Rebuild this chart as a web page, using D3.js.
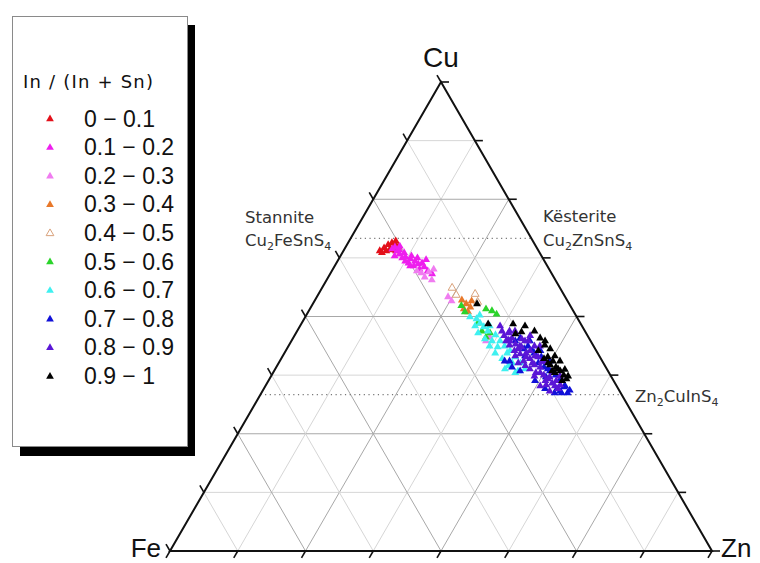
<!DOCTYPE html>
<html>
<head>
<meta charset="utf-8">
<script src="https://cdn.jsdelivr.net/npm/d3@7"></script>
<style>
body { margin: 0; background: #fff; }
svg { display: block; font-family: "Liberation Sans", Arial, sans-serif; }
</style>
</head>
<body>
<svg id="chart" width="760" height="563"></svg>
<script>
// legend bins for In / (In + Sn)
var binLabels = ["0 \u2212 0.1", "0.1 \u2212 0.2", "0.2 \u2212 0.3", "0.3 \u2212 0.4", "0.4 \u2212 0.5",
                 "0.5 \u2212 0.6", "0.6 \u2212 0.7", "0.7 \u2212 0.8", "0.8 \u2212 0.9", "0.9 \u2212 1"];
var binColors = ["#e3101a", "#ee1eee", "#f07cf0", "#e8782a", "#d9a27c",
                 "#2ad42a", "#3ef0f0", "#1010d8", "#5a16d6", "#000000"];

// compositions, [Cu %, Zn %] (Fe = 100 - Cu - Zn)
var bin0 = [[64.2,6.6],[64.8,7.1],[65.5,7.5],[65.9,8.0],[65.7,8.7],[65.0,9.6],[64.6,8.3],
            [64.2,7.8],[64.4,8.9],[64.2,9.6],[63.8,7.2],[66.3,8.5]];
var bin1 = [[64.6,8.7],[64.2,9.8],[63.5,10.6],[63.8,11.3],[62.9,12.0],[62.5,13.1],[63.1,13.0],
            [62.0,14.2],[61.4,15.1],[61.0,14.5],[60.3,15.9],[60.8,16.5],[59.9,17.6],[59.3,18.7],
            [61.6,13.2],[62.7,11.5],[65.0,9.0],[62.7,14.3],[61.6,15.7],[64.4,10.1],[62.3,16.1],
            [63.1,9.9],[62.0,12.4],[61.0,13.8],[65.2,9.8]];
var bin2 = [[59.5,16.6],[58.6,17.7],[59.7,17.9],[58.0,19.3],[60.3,18.5],[59.9,15.6],
            [54.4,24.1],[53.5,25.2],[45.8,36.1],[45.0,35.8]];
var bin3 = [[53.7,27.0],[52.9,28.2],[52.2,29.3],[51.8,28.3],[53.5,28.9],[51.2,29.4]];
var bin4 = [[56.3,23.9],[55.0,28.8],[53.3,30.1],[54.8,25.4]];
var bin5 = [[52.5,27.5],[51.2,28.8],[51.8,32.4],[51.4,33.7],[50.7,34.9],[47.1,34.0],
            [45.8,35.4],[46.7,35.7],[48.8,32.4]];
var bin6 = [[49.7,31.7],[48.8,32.8],[48.0,33.9],[47.1,35.1],[46.3,36.9],[45.0,38.4],[43.9,39.8],
            [42.9,41.3],[41.6,42.9],[40.3,44.5],[39.0,46.0],[43.7,38.6],[42.4,41.0],[45.0,36.9],
            [50.5,31.9],[50.1,30.3],[40.3,43.0],[38.6,44.9],[48.2,32.2],[46.7,33.5],[45.4,35.4],
            [43.9,37.0],[42.4,38.8],[41.2,40.7],[39.7,42.6],[38.2,44.6],[48.2,34.9],[39.0,42.3]];
var bin7 = [[45.6,41.8],[43.9,44.1],[42.9,45.4],[40.3,47.8],[39.4,49.3],[38.6,50.8],[37.7,52.3],
            [36.9,53.6],[35.2,55.1],[33.9,56.4],[33.9,55.3],[34.8,54.0],[39.0,50.2],[41.6,47.7],
            [42.4,46.0],[43.3,43.7],[45.0,41.2],[37.3,50.7],[34.5,56.5],[40.7,41.4],[39.4,43.4],
            [35.4,55.2],[34.3,54.8],[33.9,54.0],[34.8,51.8],[36.5,49.1],[38.6,45.3],[40.7,42.3],
            [41.8,44.6],[42.9,46.9],[40.7,49.7],[45.0,43.9]];
var bin8 = [[47.1,37.7],[46.7,39.1],[45.6,40.3],[45.0,39.5],[44.3,41.6],[43.7,43.0],[42.9,42.1],
            [42.2,43.5],[42.4,44.5],[41.2,45.8],[40.7,44.9],[39.9,47.3],[39.4,48.6],[38.2,48.4],
            [37.7,50.1],[36.9,51.3],[36.0,52.5],[36.5,53.0],[35.6,54.2],[35.6,51.6],[39.0,46.9],
            [40.3,44.1],[44.1,40.6],[41.6,47.1],[40.5,48.3],[45.0,43.6],[46.1,38.6],[38.2,51.6],
            [45.2,39.8],[43.3,42.6],[41.6,44.9],[40.3,46.7],[38.2,49.2],[37.3,51.4],[34.8,54.2],
            [43.9,45.3],[45.4,42.2],[48.2,36.8],[47.1,39.1],[47.1,40.1],[43.9,42.6],[45.0,43.0],
            [42.9,45.0],[41.8,42.8],[39.7,45.7],[37.5,48.5],[36.5,51.0],[35.4,50.6],[35.4,53.3],
            [34.3,52.9],[37.5,53.2],[40.7,48.8],[41.8,46.4],[45.0,40.2],[46.1,43.4],[43.9,46.3]];
var bin9 = [[52.9,30.2],[48.6,34.4],[48.6,39.0],[46.5,40.5],[45.6,45.5],[44.1,47.1],[43.3,48.5],
            [41.6,48.9],[40.7,50.3],[41.2,48.4],[39.4,51.5],[38.6,52.7],[37.7,53.8],[36.9,54.7],
            [39.9,50.2],[42.9,46.5],[38.2,51.9],[46.9,41.4],[41.8,50.1],[40.7,51.6],[38.9,53.4],
            [37.5,54.7],[39.0,52.1],[38.6,51.2],[36.5,54.1],[40.3,49.6],[47.1,43.7],[48.2,41.4],
            [45.0,46.7]];
var bins = [bin0, bin1, bin2, bin3, bin4, bin5, bin6, bin7, bin8, bin9];

// reference phases (Cu %)
var refLines = [{cu: 200 / 3, name: "Stannite"}, {cu: 100 / 3, name: "Zn2CuInS4"}];

var svg = d3.select("#chart");

// x is horizontal position in % (Zn + Cu/2), y is Cu %
var x = d3.scaleLinear().domain([0, 100]).range([170, 712]);
var y = d3.scaleLinear().domain([0, 100]).range([551, 82]);
function px(cu, zn) { return x(zn + cu / 2); }
function py(cu) { return y(cu); }

var line = d3.line();
var steps = d3.range(1, 8).map(function (k) { return k * 12.5; });

// grid
var grid = svg.append("g").attr("fill", "none");
steps.forEach(function (v, i) {
    var col = (i % 2 == 1) ? "#a8a8a8" : "#d6d6d6";
    var segs = [
        [[px(v, 0), py(v)], [px(v, 100 - v), py(v)]],          // Cu = v
        [[px(0, v), py(0)], [px(100 - v, v), py(100 - v)]],    // Zn = v
        [[px(0, 100 - v), py(0)], [px(100 - v, 0), py(100 - v)]] // Fe = v
    ];
    segs.forEach(function (s) {
        grid.append("path").attr("d", line(s)).attr("stroke", col).attr("stroke-width", 1);
    });
});

// dotted reference lines
refLines.forEach(function (r) {
    svg.append("path")
        .attr("d", line([[px(r.cu, 0), py(r.cu)], [px(r.cu, 100 - r.cu), py(r.cu)]]))
        .attr("stroke", "#777").attr("stroke-width", 1.2)
        .attr("stroke-dasharray", "1.2,3.5").attr("fill", "none");
});

// triangle frame
svg.append("path")
    .attr("d", line([[px(0, 0), py(0)], [px(0, 100), py(0)], [px(100, 0), py(100)]]) + "Z")
    .attr("fill", "none").attr("stroke", "#111").attr("stroke-width", 2);

// ticks
var tl = 8;
var ticks = svg.append("g").attr("stroke", "#111").attr("stroke-width", 1.6);
d3.range(0, 9).forEach(function (k) {
    var v = k * 12.5;
    // right edge: horizontal
    var rx = px(v, 100 - v), ry = py(v);
    ticks.append("path").attr("d", line([[rx, ry], [rx + tl, ry]]));
    // left edge: up-left
    var lx = px(100 - v, 0), ly = py(100 - v);
    ticks.append("path").attr("d", line([[lx, ly], [lx - tl * 0.5, ly - tl * 0.866]]));
    // bottom: down-left
    var bx = px(0, v), by = py(0);
    ticks.append("path").attr("d", line([[bx, by], [bx - tl * 0.5, by + tl * 0.866]]));
});

// data points
var sym = d3.symbol().type(d3.symbolTriangle).size(27);
var pts = svg.append("g");
bins.forEach(function (data, i) {
    pts.selectAll(".b" + i)
        .data(data)
        .enter().append("path")
        .attr("d", sym)
        .attr("transform", function (d) { return "translate(" + px(d[0], d[1]) + "," + (py(d[0]) + 1) + ")"; })
        .attr("fill", i == 4 ? "none" : binColors[i])
        .attr("stroke", i == 4 ? binColors[i] : "none")
        .attr("stroke-width", 1);
});

// vertex labels
svg.append("text").attr("x", px(100, 0)).attr("y", py(100) - 15).attr("text-anchor", "middle")
    .attr("font-size", 28).attr("fill", "#111").text("Cu");
svg.append("text").attr("x", px(0, 0) - 9).attr("y", py(0) + 6).attr("text-anchor", "end")
    .attr("font-size", 26).attr("fill", "#111").text("Fe");
svg.append("text").attr("x", px(0, 100) + 9).attr("y", py(0) + 6).attr("text-anchor", "start")
    .attr("font-size", 26).attr("fill", "#111").text("Zn");

// phase labels with subscripts
function formula(g, xx, yy, parts) {
    var t = g.append("text").attr("x", xx).attr("y", yy)
        .attr("font-family", "DejaVu Sans").attr("font-size", 16.5).attr("fill", "#333");
    var low = false;
    parts.forEach(function (p) {
        if (typeof p == "number") {
            t.append("tspan").attr("font-size", 11).attr("dy", 4).text(p);
            low = true;
        } else {
            t.append("tspan").attr("dy", low ? -4 : 0).text(p);
            low = false;
        }
    });
}
var lab = svg.append("g");
var yS = py(refLines[0].cu), yZ = py(refLines[1].cu);
lab.append("text").attr("x", 245).attr("y", yS - 15).attr("font-family", "DejaVu Sans")
    .attr("font-size", 16.5).attr("fill", "#333").text("Stannite");
formula(lab, 245, yS + 8, ["Cu", 2, "FeSnS", 4]);
lab.append("text").attr("x", 543).attr("y", yS - 16).attr("font-family", "DejaVu Sans")
    .attr("font-size", 16.5).attr("fill", "#333").text("K\u00ebsterite");
formula(lab, 543, yS + 8, ["Cu", 2, "ZnSnS", 4]);
formula(lab, 635, yZ + 7, ["Zn", 2, "CuInS", 4]);

// legend
var leg = svg.append("g");
leg.append("rect").attr("x", 20).attr("y", 25).attr("width", 175).attr("height", 431).attr("fill", "#000");
leg.append("rect").attr("x", 12.5).attr("y", 16.5).attr("width", 175).attr("height", 430)
    .attr("fill", "#fff").attr("stroke", "#8a8a8a").attr("stroke-width", 1);
leg.append("text").attr("x", 23).attr("y", 88).attr("font-family", "DejaVu Sans")
    .attr("font-size", 18).attr("fill", "#111")
    .attr("textLength", 130).attr("lengthAdjust", "spacing").text("In / (In + Sn)");
var lsym = d3.symbol().type(d3.symbolTriangle).size(26);
binLabels.forEach(function (lbl, i) {
    var yy = 118 + i * 28.6;
    leg.append("path").attr("d", lsym)
        .attr("transform", "translate(50," + (yy + 1) + ")")
        .attr("fill", i == 4 ? "none" : binColors[i])
        .attr("stroke", i == 4 ? binColors[i] : "none");
    leg.append("text").attr("x", 84).attr("y", yy + 8.5)
        .attr("font-size", 23).attr("fill", "#111").text(lbl);
});
</script>
</body>
</html>
